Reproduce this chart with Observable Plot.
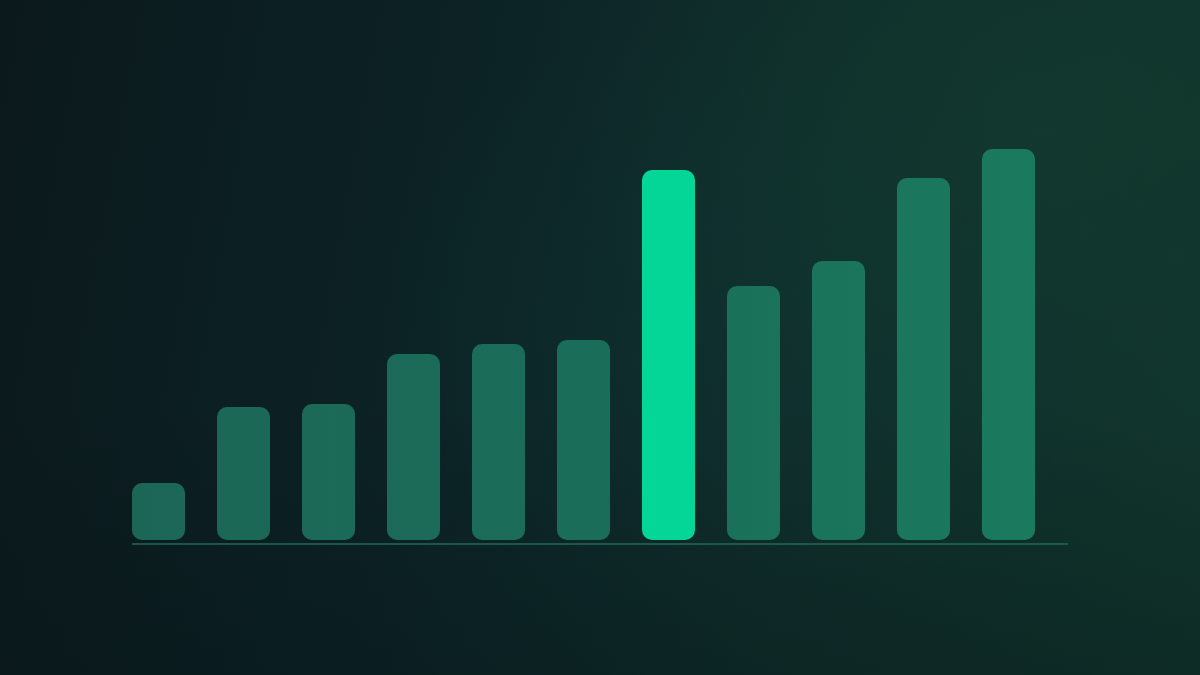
<!DOCTYPE html>
<html>
<head>
<meta charset="utf-8">
<script src="https://cdn.jsdelivr.net/npm/d3@7"></script>
<script src="https://cdn.jsdelivr.net/npm/@observablehq/plot@0.6"></script>
<style>
  html, body { margin: 0; padding: 0; width: 1200px; height: 675px; overflow: hidden; }
  body {
    background:
      radial-gradient(ellipse 700px 500px at 1050px 120px, rgba(20,62,48,0.5), rgba(20,62,48,0) 70%),
      radial-gradient(ellipse 600px 420px at 780px 300px, rgba(14,52,50,0.45), rgba(14,52,50,0) 70%),
      linear-gradient(180deg, rgba(0,0,0,0) 60%, rgba(6,18,20,0.3) 100%),
      linear-gradient(100deg, #0b191c 0%, #0c2225 35%, #0f2e2b 65%, #11362d 100%);
    font-family: Inter, "Noto Sans", sans-serif;
  }
  #chart { position: absolute; left: 0; top: 0; }
</style>
</head>
<body>
<div id="chart"></div>
<script>
const categories = ["1","2","3","4","5","6","7","8","9","10","11"];
const values = [57, 133, 136, 186, 196, 200, 370, 254, 279, 362, 391];
const highlighted = "7";

const data = categories.map((c, i) => ({category: c, value: values[i]}));

const plot = Plot.plot({
  width: 1200,
  height: 675,
  marginLeft: 132,
  marginRight: 132,
  marginTop: 0,
  marginBottom: 0,
  style: {background: "transparent"},
  x: {domain: categories, range: [132, 1035], paddingInner: 0.376, paddingOuter: 0, round: false, axis: null},
  y: {domain: [0, 391], range: [540, 149], axis: null},
  marks: [
    Plot.ruleY([0], {dy: 3.5, stroke: "#1f6b57", strokeWidth: 1.6}),
    Plot.barY(data, {
      x: "category",
      y: "value",
      rx: 10,
      ry: 10,
      fill: d => d.category === highlighted ? "#03d696" : "url(#barGrad)"
    })
  ]
});

const svg = d3.select(plot);
const defs = svg.insert("defs", ":first-child");
const g = defs.append("linearGradient")
  .attr("id", "barGrad")
  .attr("gradientUnits", "userSpaceOnUse")
  .attr("x1", 132).attr("y1", 0).attr("x2", 1035).attr("y2", 0);
g.append("stop").attr("offset", "0%").attr("stop-color", "#1c6656");
g.append("stop").attr("offset", "55%").attr("stop-color", "#1a6e59");
g.append("stop").attr("offset", "100%").attr("stop-color", "#1a7a5e");

document.getElementById("chart").appendChild(plot);
</script>
</body>
</html>
